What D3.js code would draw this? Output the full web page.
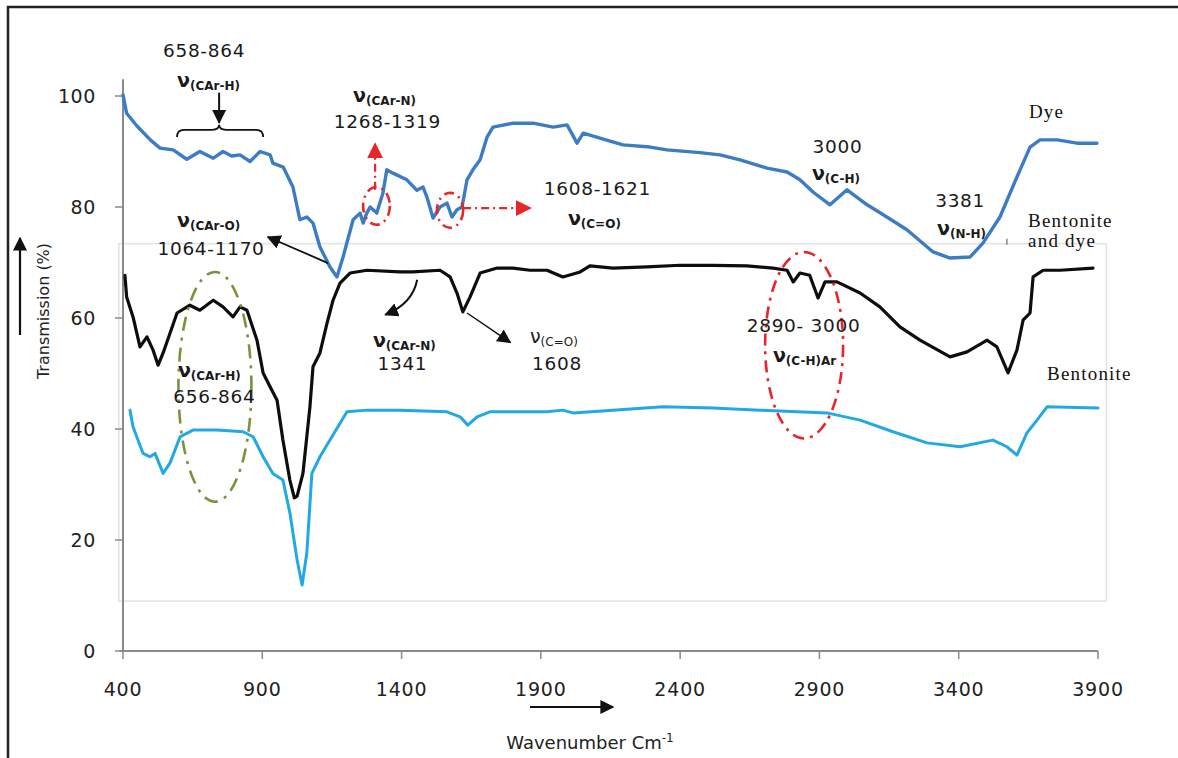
<!DOCTYPE html>
<html><head><meta charset="utf-8">
<script src="https://cdn.jsdelivr.net/npm/d3@7"></script>
<style>
html,body{margin:0;padding:0;background:#fff;}
svg{display:block;}
</style></head>
<body>
<script>
// ---------- DATA ----------
const xTicks = [400, 900, 1400, 1900, 2400, 2900, 3400, 3900];
const yTicks = [0, 20, 40, 60, 80, 100];

const seriesNames = ["Dye", "Bentonite and dye", "Bentonite"];

const dyeWn = [400,413,450,500,533,580,629,676,724,759,790,820,856,892,928,938,975,1010,1035,1060,1082,1107,1143,1168,1190,1226,1251,1262,1275,1287,1311,1333,1347,1369,1419,1455,1477,1491,1513,1538,1563,1581,1599,1617,1635,1656,1682,1707,1728,1800,1872,1944,1994,2030,2052,2112,2195,2292,2353,2471,2543,2615,2712,2784,2830,2877,2938,2999,3071,3142,3214,3308,3369,3441,3487,3548,3609,3656,3692,3753,3825,3896];
const dyeT  = [100.2,96.9,94.6,92.0,90.6,90.3,88.6,90.0,88.8,90.0,89.2,89.4,88.2,90.0,89.4,87.9,87.2,83.6,77.7,78.2,77.1,72.8,69.2,67.4,71.0,77.7,78.9,77.1,78.9,80.0,78.9,82.5,86.7,86.1,84.9,83.0,83.6,81.8,78.0,80.0,80.7,78.2,79.5,80.0,84.9,86.7,88.5,92.6,94.4,95.1,95.1,94.4,94.8,91.5,93.3,92.4,91.2,90.8,90.3,89.8,89.4,88.5,87.0,86.3,84.9,82.7,80.4,83.1,80.4,78.2,75.9,71.9,70.8,71.0,73.5,78.2,85.4,90.8,92.1,92.1,91.5,91.5];

const mixWn = [407,413,436,461,486,508,526,544,569,594,640,676,724,759,795,820,845,881,903,928,953,974,999,1015,1025,1046,1071,1082,1107,1132,1154,1179,1215,1276,1394,1441,1538,1574,1599,1620,1646,1682,1743,1800,1861,1922,1979,2041,2076,2159,2281,2400,2518,2640,2733,2784,2806,2830,2865,2895,2920,2963,3046,3117,3189,3261,3369,3430,3502,3537,3577,3609,3631,3656,3667,3703,3764,3882];
const mixT  = [67.7,63.8,60.2,54.8,56.6,54.2,51.5,53.7,57.3,60.9,62.3,61.4,63.2,62.0,60.2,62.0,61.4,56.0,50.1,47.6,45.2,38.0,30.8,27.6,27.9,32.0,44.0,51.2,53.7,59.0,63.2,66.3,68.1,68.6,68.3,68.3,68.6,67.4,64.5,61.1,63.8,68.1,69.0,69.0,68.6,68.6,67.4,68.3,69.4,69.0,69.2,69.5,69.5,69.4,69.0,68.6,66.5,68.1,67.7,63.6,66.5,66.5,64.5,62.0,58.4,56.0,53.0,53.9,56.0,54.8,50.1,54.2,59.6,60.9,67.4,68.6,68.6,69.0];

const bentWn = [425,436,472,497,515,544,569,605,651,737,831,867,903,938,974,999,1025,1043,1060,1078,1107,1143,1204,1276,1394,1563,1610,1638,1671,1717,1922,1979,2015,2159,2338,2518,2687,2927,3046,3164,3286,3405,3523,3573,3609,3645,3681,3717,3900];
const bentT  = [43.4,40.4,35.6,35.0,35.6,32.0,33.9,38.6,39.8,39.8,39.5,38.6,35.0,32.0,30.8,24.9,16.4,11.9,17.7,32.0,35.0,38.0,43.1,43.4,43.4,43.1,42.2,40.7,42.2,43.1,43.1,43.4,42.9,43.4,44.0,43.8,43.4,42.9,41.6,39.5,37.5,36.8,38.0,36.8,35.3,39.3,41.6,44.0,43.8];

// annotation texts (wavenumber, transmission coordinates)
const numTexts = ["658-864","1268-1319","1608-1621","1064-1170","3000","3381","1341","1608","656-864","2890- 3000"];
const numWn    = [691,1349,2103,716,2965,3405,1403,1958,728,2843];
const numT     = [107.0,94.2,82.2,71.35,89.7,80.0,50.6,50.6,44.7,57.5];

const nuSubs = ["(CAr-H)","(CAr-N)","(C=O)","(CAr-O)","(C-H)","(N-H)","(CAr-N)","(C=O)","(CAr-H)","(C-H)Ar"];
const nuWn   = [594,1226,1997,594,2873,3322,1297,1861,597,2733];
const nuT    = [101.6,98.9,76.8,76.4,84.9,74.95,54.8,55.5,49.4,52.1];
const nuBold = [true,true,true,true,true,true,true,false,true,true];

const nameTexts = ["Dye","Bentonite","and dye","Bentonite"];
const nameWn    = [3652,3649,3649,3717];
const nameT     = [96.0,76.4,72.8,48.8];

// ---------- LAYOUT ----------
const W = 1178, H = 758;
const x = d3.scaleLinear().domain([400, 3900]).range([123, 1098]);
const y = d3.scaleLinear().domain([0, 103]).range([651, 79.35]);

const svg = d3.select("body").append("svg").attr("width", W).attr("height", H);

const defs = svg.append("defs");
function marker(id, color, size) {
  defs.append("marker").attr("id", id).attr("viewBox", "0 0 10 10")
    .attr("refX", 9).attr("refY", 5).attr("markerWidth", size).attr("markerHeight", size)
    .attr("markerUnits", "userSpaceOnUse").attr("orient", "auto")
    .append("path").attr("d", "M0,0 L10,5 L0,10 z").attr("fill", color);
}
marker("ahBlack", "#111", 14);
marker("ahBlackSmall", "#111", 11);
marker("ahRed", "#e8262a", 16);

// outer frame (top and left)
svg.append("path").attr("d", `M${W},7 L8,7 L8,${H}`).attr("fill", "none")
  .attr("stroke", "#222").attr("stroke-width", 2.5);

// faint inner plot-area rectangle
svg.append("rect").attr("x", x(385)).attr("y", y(73.4)).attr("width", x(3930) - x(385))
  .attr("height", y(9) - y(73.4)).attr("fill", "none").attr("stroke", "#e2e2e2").attr("stroke-width", 1.5);

// axes
const axisColor = "#8a8a8a";
svg.append("line").attr("x1", x(400)).attr("x2", x(400)).attr("y1", y(103)).attr("y2", y(0))
  .attr("stroke", axisColor).attr("stroke-width", 2);
svg.append("line").attr("x1", x(388)).attr("x2", x(3900)).attr("y1", y(0)).attr("y2", y(0))
  .attr("stroke", axisColor).attr("stroke-width", 2);

const tickFont = "DejaVu Sans, Verdana, sans-serif";
svg.selectAll(".yt").data(yTicks).join("line")
  .attr("x1", x(400) - 8).attr("x2", x(400)).attr("y1", d => y(d)).attr("y2", d => y(d))
  .attr("stroke", axisColor).attr("stroke-width", 1.5);
svg.selectAll(".ytl").data(yTicks).join("text")
  .attr("x", x(400) - 27).attr("y", d => y(d) + 7).attr("text-anchor", "end")
  .attr("font-family", tickFont).attr("font-size", 19).attr("letter-spacing", 0.6)
  .attr("fill", "#222").text(d => d);
svg.selectAll(".xt").data(xTicks).join("line")
  .attr("x1", d => x(d)).attr("x2", d => x(d)).attr("y1", y(0)).attr("y2", y(0) + 8)
  .attr("stroke", axisColor).attr("stroke-width", 1.5);
svg.selectAll(".xtl").data(xTicks).join("text")
  .attr("x", d => x(d)).attr("y", y(0) + 45).attr("text-anchor", "middle")
  .attr("font-family", tickFont).attr("font-size", 19).attr("letter-spacing", 0.8)
  .attr("fill", "#222").text(d => d);

// axis titles
const xt = svg.append("text").attr("x", 590).attr("y", 749).attr("text-anchor", "middle")
  .attr("font-family", tickFont).attr("font-size", 18).attr("fill", "#222");
xt.append("tspan").text("Wavenumber Cm");
xt.append("tspan").attr("font-size", 12).attr("dy", -7).text("-1");
svg.append("line").attr("x1", 530).attr("x2", 613).attr("y1", 707).attr("y2", 707)
  .attr("stroke", "#111").attr("stroke-width", 2).attr("marker-end", "url(#ahBlack)");

svg.append("text").attr("transform", "translate(49,311) rotate(-90)").attr("text-anchor", "middle")
  .attr("font-family", tickFont).attr("font-size", 16).attr("fill", "#222").text("Transmission (%)");
svg.append("line").attr("x1", 20).attr("x2", 20).attr("y1", 335).attr("y2", 238)
  .attr("stroke", "#111").attr("stroke-width", 2.2).attr("marker-end", "url(#ahBlack)");

// ---------- SERIES ----------
function drawSeries(wn, t, color, width) {
  const pts = wn.map((w, i) => [w, t[i]]);
  svg.append("path").datum(pts)
    .attr("d", d3.line().x(d => x(d[0])).y(d => y(d[1])))
    .attr("fill", "none").attr("stroke", color).attr("stroke-width", width)
    .attr("stroke-linejoin", "round").attr("stroke-linecap", "round");
}
drawSeries(bentWn, bentT, "#22a8e3", 3);
drawSeries(mixWn, mixT, "#0d0d0d", 3.2);
drawSeries(dyeWn, dyeT, "#3c7cc4", 3.4);

// ---------- ANNOTATIONS ----------
const redDash = "10,5,2,5";
function ellipse(cw, ct, rw, rt, color, dash) {
  svg.append("ellipse").attr("cx", x(cw)).attr("cy", y(ct))
    .attr("rx", x(cw + rw) - x(cw)).attr("ry", y(ct - rt) - y(ct))
    .attr("fill", "none").attr("stroke", color).attr("stroke-width", 2.6).attr("stroke-dasharray", dash);
}
ellipse(1310, 80.2, 48, 3.4, "#e8262a", redDash);
ellipse(1574, 79.4, 47, 3.15, "#e8262a", redDash);
ellipse(2845, 55.1, 140, 16.8, "#e8262a", "12,6,3,6");
ellipse(730, 47.6, 131, 20.7, "#77933c", "14,7,3,7");

// red dash-dot arrows
svg.append("line").attr("x1", x(1305)).attr("x2", x(1305)).attr("y1", y(83.1)).attr("y2", y(91.4))
  .attr("stroke", "#e8262a").attr("stroke-width", 2.2).attr("stroke-dasharray", "8,4,2,4")
  .attr("marker-end", "url(#ahRed)");
svg.append("line").attr("x1", x(1621)).attr("x2", x(1862)).attr("y1", y(79.8)).attr("y2", y(79.8))
  .attr("stroke", "#e8262a").attr("stroke-width", 2.2).attr("stroke-dasharray", "8,4,2,4")
  .attr("marker-end", "url(#ahRed)");

// brace + down arrow
{
  const x1 = x(594), x2 = x(903), m = x(745), yE = y(92.6), yM = y(93.9), yT = y(94.8);
  svg.append("path")
    .attr("d", `M${x1},${yE} Q${x1},${yM} ${x1+7},${yM} L${m-7},${yM} Q${m},${yM} ${m},${yT} Q${m},${yM} ${m+7},${yM} L${x2-7},${yM} Q${x2},${yM} ${x2},${yE}`)
    .attr("fill", "none").attr("stroke", "#111").attr("stroke-width", 1.8);
  svg.append("line").attr("x1", m).attr("x2", m).attr("y1", y(100.6)).attr("y2", y(95.2))
    .attr("stroke", "#111").attr("stroke-width", 2).attr("marker-end", "url(#ahBlack)");
}
// black straight arrows
svg.append("line").attr("x1", x(1136)).attr("y1", y(69.9)).attr("x2", x(920)).attr("y2", y(74.6))
  .attr("stroke", "#111").attr("stroke-width", 1.8).attr("marker-end", "url(#ahBlack)");
svg.append("line").attr("x1", x(1635)).attr("y1", y(60.9)).attr("x2", x(1790)).attr("y2", y(55.6))
  .attr("stroke", "#111").attr("stroke-width", 1.5).attr("marker-end", "url(#ahBlack)");
// curved arrow
svg.append("path")
  .attr("d", `M${x(1456)},${y(66.9)} Q${x(1440)},${y(62.6)} ${x(1342)},${y(60.6)}`)
  .attr("fill", "none").attr("stroke", "#111").attr("stroke-width", 2).attr("marker-end", "url(#ahBlack)");
// small tick mark near "Bentonite and dye"
svg.append("line").attr("x1", x(3573)).attr("x2", x(3573)).attr("y1", y(74.3)).attr("y2", y(73.2))
  .attr("stroke", "#888").attr("stroke-width", 1.5);

// number labels
svg.selectAll(".num").data(numTexts).join("text")
  .attr("x", (d, i) => x(numWn[i])).attr("y", (d, i) => y(numT[i])).attr("text-anchor", "middle")
  .attr("font-family", tickFont).attr("font-size", 18.5).attr("letter-spacing", 0.7)
  .attr("fill", "#1a1a1a").text(d => d);

// nu labels
nuSubs.forEach((s, i) => {
  const t = svg.append("text").attr("x", x(nuWn[i])).attr("y", y(nuT[i]))
    .attr("font-family", tickFont).attr("fill", "#1a1a1a")
    .attr("font-weight", nuBold[i] ? "bold" : "normal");
  t.append("tspan").attr("font-size", 19).text("ν");
  t.append("tspan").attr("font-size", 12).attr("dy", 3).text(s);
});

// series names
svg.selectAll(".nm").data(nameTexts).join("text")
  .attr("x", (d, i) => x(nameWn[i])).attr("y", (d, i) => y(nameT[i]))
  .attr("font-family", "Liberation Serif, Times New Roman, serif").attr("font-size", 19)
  .attr("letter-spacing", 1.2).attr("fill", "#111").text(d => d);
</script>
</body></html>
